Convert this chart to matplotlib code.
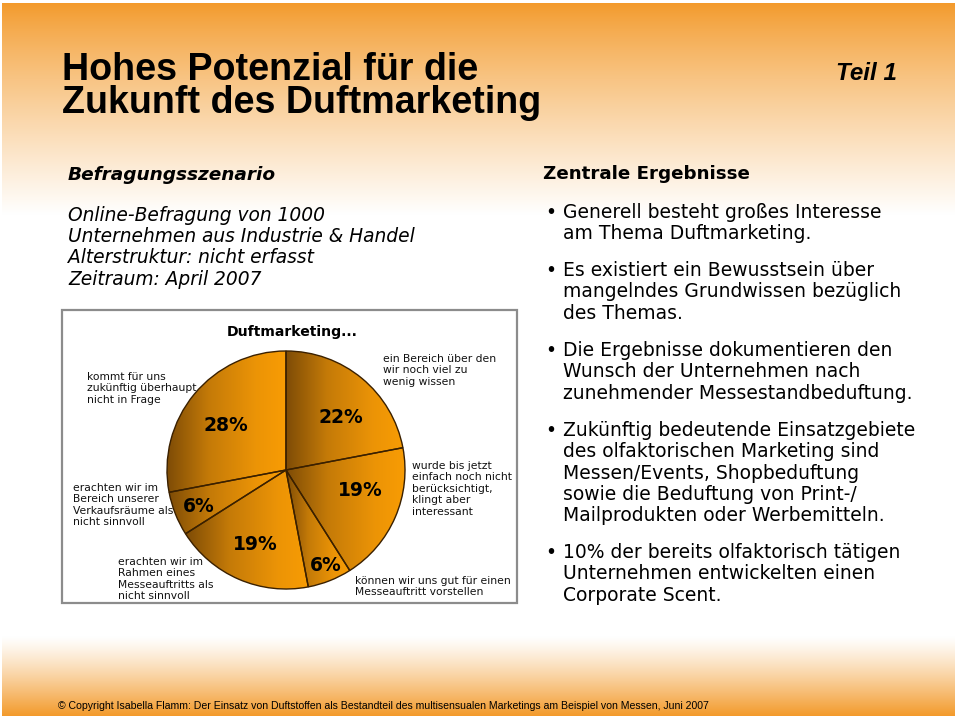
import numpy as np
import matplotlib
matplotlib.use("Agg")
import matplotlib.pyplot as plt
from matplotlib.colors import LinearSegmentedColormap, to_rgb

# ---------------- data ----------------
chart_title = "Duftmarketing..."
slice_values = [22, 19, 6, 19, 6, 28]
slice_pct_labels = ["22%", "19%", "6%", "19%", "6%", "28%"]
slice_categories = [
    "ein Bereich über den\nwir noch viel zu\nwenig wissen",
    "wurde bis jetzt\neinfach noch nicht\nberücksichtigt,\nklingt aber\ninteressant",
    "können wir uns gut für einen\nMesseauftritt vorstellen",
    "erachten wir im\nRahmen eines\nMesseauftritts als\nnicht sinnvoll",
    "erachten wir im\nBereich unserer\nVerkaufsräume als\nnicht sinnvoll",
    "kommt für uns\nzukünftig überhaupt\nnicht in Frage",
]
slide_title = ["Hohes Potenzial für die", "Zukunft des Duftmarketing"]
part_label = "Teil 1"
scenario_head = "Befragungsszenario"
scenario_lines = ["Online-Befragung von 1000", "Unternehmen aus Industrie & Handel",
                  "Alterstruktur: nicht erfasst", "Zeitraum: April 2007"]
results_head = "Zentrale Ergebnisse"
results_bullets = [
    ["Generell besteht großes Interesse", "am Thema Duftmarketing."],
    ["Es existiert ein Bewusstsein über", "mangelndes Grundwissen bezüglich", "des Themas."],
    ["Die Ergebnisse dokumentieren den", "Wunsch der Unternehmen nach", "zunehmender Messestandbeduftung."],
    ["Zukünftig bedeutende Einsatzgebiete", "des olfaktorischen Marketing sind",
     "Messen/Events, Shopbeduftung", "sowie die Beduftung von Print-/",
     "Mailprodukten oder Werbemitteln."],
    ["10% der bereits olfaktorisch tätigen", "Unternehmen entwickelten einen", "Corporate Scent."],
]
footer = ("© Copyright Isabella Flamm: Der Einsatz von Duftstoffen als Bestandteil des "
          "multisensualen Marketings am Beispiel von Messen, Juni 2007")

W, H = 960, 720
fig = plt.figure(figsize=(9.6, 7.2), dpi=100)
fig.patch.set_facecolor("white")
bg = fig.add_axes([0, 0, 1, 1])
bg.set_xlim(0, W)
bg.set_ylim(H, 0)
bg.axis("off")

ORANGE = np.array(to_rgb("#F39A2B"))
WHITE = np.ones(3)

def vgrad(top_col, bot_col, n=256, gamma=1.0):
    t = np.linspace(0, 1, n) ** gamma
    arr = top_col[None, :] * (1 - t[:, None]) + bot_col[None, :] * t[:, None]
    return arr[:, None, :]

# top band
bg.imshow(vgrad(ORANGE, WHITE, gamma=0.85), extent=(2, 955, 215, 3),
          aspect="auto", zorder=0, interpolation="bilinear")
# bottom band
bg.imshow(vgrad(WHITE, ORANGE, gamma=1.2), extent=(2, 955, 716, 636),
          aspect="auto", zorder=0, interpolation="bilinear")
bg.set_xlim(0, W)
bg.set_ylim(H, 0)

renderer = fig.canvas.get_renderer()

def fit_size(s, target_w, **kw):
    t = bg.text(0, 0, s, fontsize=10, **kw)
    w = t.get_window_extent(renderer).width
    t.remove()
    return 10 * target_w / w

def put(x, y, s, size, **kw):
    return bg.text(x, y, s, fontsize=size, va="baseline", ha=kw.pop("ha", "left"), zorder=5, **kw)

# slide title
tkw = dict(family="Liberation Sans", fontweight="bold")
ts = fit_size(slide_title[0], 416, **tkw)
put(62, 80, slide_title[0], ts, **tkw)
put(62, 113, slide_title[1], ts, **tkw)
pkw = dict(family="Liberation Sans", fontweight="bold", fontstyle="italic")
put(836, 80, part_label, fit_size(part_label, 61, **pkw), **pkw)

# scenario block
hkw = dict(family="DejaVu Sans", fontweight="bold", fontstyle="italic")
put(68, 180, scenario_head, fit_size(scenario_head, 208, **hkw), **hkw)
skw = dict(family="DejaVu Sans", fontstyle="italic")
ss = fit_size(scenario_lines[0], 257, **skw)
for i, line in enumerate(scenario_lines):
    put(68, 221 + i * 21.2, line, ss, **skw)

# results block
rkw = dict(family="DejaVu Sans", fontweight="bold")
put(543, 179, results_head, fit_size(results_head, 207, **rkw), **rkw)
bkw = dict(family="DejaVu Sans")
bs = fit_size(results_bullets[0][0], 317, **bkw)
starts = [218, 276, 356, 436, 558]
for y0, lines in zip(starts, results_bullets):
    put(545, y0, "•", bs, **bkw)
    for j, line in enumerate(lines):
        put(563, y0 + j * 21.3, line, bs, **bkw)

# footer
fkw = dict(family="Liberation Sans")
put(58, 709, footer, fit_size(footer, 655, **fkw), **fkw)

# chart box
bg.add_patch(plt.Rectangle((62, 310), 455, 293, facecolor="white",
                           edgecolor="#8c8c8c", linewidth=1.6, zorder=1))
ckw = dict(family="DejaVu Sans", fontweight="bold")
put(292, 336, chart_title, fit_size(chart_title, 131, **ckw), ha="center", **ckw)

# category labels
lkw = dict(family="DejaVu Sans", color="#111111")
ls = fit_size(slice_categories[2].split("\n")[0], 155, **lkw)
cat_pos = [(383, 362), (412, 469), (355, 584), (118, 565), (73, 491), (87, 380)]
for (x, y), lab in zip(cat_pos, slice_categories):
    for j, line in enumerate(lab.split("\n")):
        put(x, y + j * 11.4, line, ls, **lkw)

# ---------------- pie ----------------
cx, cy, R = 286, 470, 119
half = R * 1.05
pax = fig.add_axes([(cx - half) / W, (H - cy - half) / H, 2 * half / W, 2 * half / H])
pax.set_zorder(3)
wedges, _ = pax.pie(slice_values, startangle=90, counterclock=False, radius=1,
                    wedgeprops=dict(edgecolor="#3a2000", linewidth=1.0, facecolor="none"))
cmap = LinearSegmentedColormap.from_list(
    "orng", [(0.0, "#7E4C06"), (0.35, "#C47A08"), (0.75, "#EC9406"), (1.0, "#F89C04")])
grad = np.linspace(0, 1, 256)[None, :]
for w in wedges:
    th = np.radians(np.linspace(w.theta1, w.theta2, 100))
    xs = np.concatenate([[0], np.cos(th) * w.r])
    ys = np.concatenate([[0], np.sin(th) * w.r])
    im = pax.imshow(grad, cmap=cmap, extent=(xs.min(), xs.max(), ys.min(), ys.max()),
                    aspect="auto", interpolation="bilinear", zorder=1)
    im.set_clip_path(w)
    w.set_zorder(2)

pct_kw = dict(family="DejaVu Sans", fontweight="bold", fontsize=13.5)
pct_dist = [0.64, 0.65, 0.87, 0.68, 0.79, 0.63]
pct_shift = [-7, 8, 1, 1, 1, 3]
for w, lab, d, sh in zip(wedges, slice_pct_labels, pct_dist, pct_shift):
    a = np.radians((w.theta1 + w.theta2) / 2 + sh)
    pax.text(d * np.cos(a), d * np.sin(a), lab, ha="center", va="center", zorder=4, **pct_kw)

pax.set_xlim(-1.05, 1.05)
pax.set_ylim(-1.05, 1.05)
pax.set_aspect("auto")
pax.axis("off")

fig.savefig("out.png", dpi=100)
